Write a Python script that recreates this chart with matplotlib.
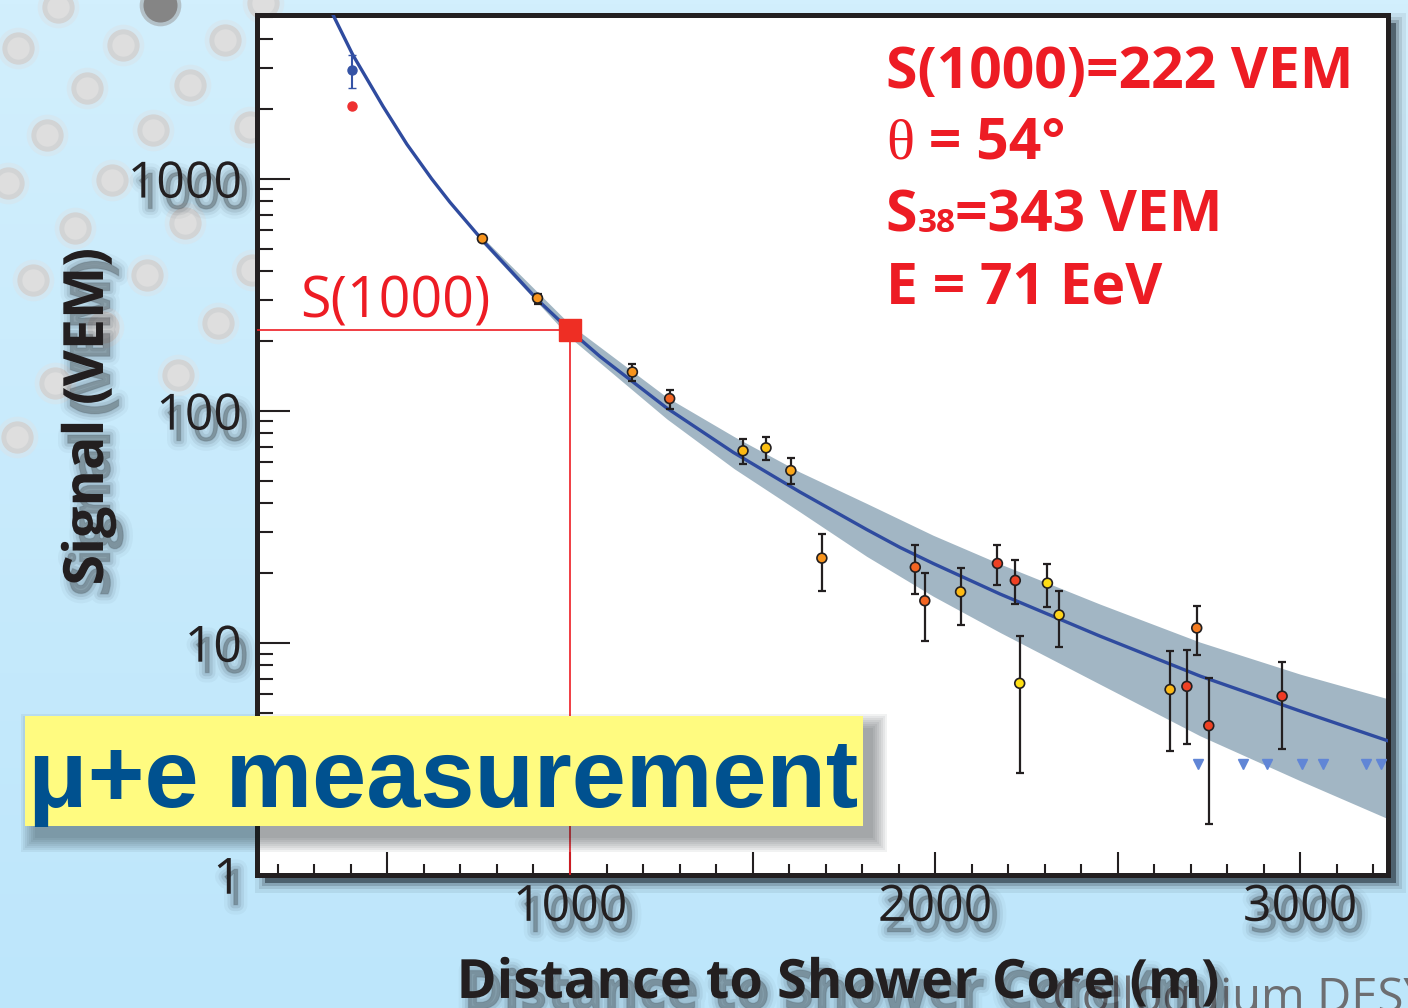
import matplotlib

matplotlib.use("Agg")
import matplotlib.pyplot as plt
import matplotlib.patheffects as pe
import numpy as np
from matplotlib.colors import LinearSegmentedColormap
from matplotlib.patches import Rectangle
from matplotlib.ticker import FuncFormatter, MultipleLocator, LogLocator, NullFormatter

# --- event summary ---
s1000 = 222          # VEM
theta_deg = 54
s38 = 343            # VEM
energy_eev = 71

# --- triggered stations: distance (m), signal (VEM), error band ---
station_dist = [760, 911, 1171, 1273, 1474, 1537, 1605, 1690, 1946, 1972, 2070,
                2171, 2220, 2232, 2308, 2340, 2644, 2690, 2717, 2750, 2951]
station_signal = [552, 306, 147, 113, 67.3, 69.3, 55.3, 23.2, 21.2, 15.2, 16.6,
                  22.0, 18.6, 6.7, 18.1, 13.2, 6.3, 6.5, 11.6, 4.4, 5.9]
station_hi = [562, 320, 159, 123.5, 76.0, 77.0, 62.8, 29.6, 26.3, 20.1, 21.1,
              26.3, 22.7, 10.7, 21.8, 16.8, 9.23, 9.32, 14.4, 7.09, 8.28]
station_lo = [542, 290, 134, 102.3, 59.1, 61.7, 48.2, 16.7, 16.2, 10.2, 11.9,
              17.7, 14.7, 2.76, 14.3, 9.64, 3.43, 3.66, 8.84, 1.66, 3.49]
station_colors = ["#f7941d", "#f7941d", "#f7941d", "#f26522", "#fdb913", "#fdc010",
                  "#faa61a", "#f7941d", "#f26522", "#f26522", "#fdb913",
                  "#ef4123", "#ef4123", "#ffe014", "#ffdd15", "#ffd41a", "#fdb913",
                  "#ef4123", "#f47b20", "#ef4123", "#ef3a24"]

# saturated station near the core
sat_dist = 403
sat_signal = 2944
sat_hi = 3420
sat_lo = 2466
sat_recovered = 2060

# silent stations
silent_dist = [2721, 2843, 2910, 3005, 3064, 3181, 3221]
silent_signal = [3.0, 3.0, 3.0, 3.0, 3.0, 3.0, 3.0]

# lateral distribution fit and its uncertainty band
fit_dist = [351, 405, 488, 553, 621, 671, 759, 912, 1000, 1082, 1265, 1447,
            1630, 1813, 1904, 1995, 2178, 2452, 2726, 3000, 3240]
fit_signal = [5080, 3420, 2050, 1410, 1000, 793, 546, 300, 222, 171.6, 102.9, 66.3,
              44.7, 30.8, 25.8, 22.0, 16.25, 10.7, 7.2, 5.09, 3.79]
band_dist = [740, 760, 1000, 1265, 1450, 1630, 1813, 1995, 2178, 2452, 2726, 3000, 3240]
band_lo = [588, 528, 207, 92.4, 56.3, 36.7, 23.6, 15.9, 11.1, 6.64, 3.98, 2.55, 1.75]
band_hi = [596, 560, 235.8, 114.6, 77.4, 54.5, 39.9, 29.1, 21.9, 14.7, 10.08, 7.34, 5.75]

# background decoration (pixel positions)
dot_x = [58, 263, 18, 123, 225, 87, 190, 47, 153, 250, 8, 112, 185, 75, 33, 147,
         252, 103, 218, 178, 55, 17]
dot_y = [7, 3, 48, 45, 40, 88, 85, 135, 130, 127, 183, 180, 223, 228, 280, 275,
         270, 327, 323, 375, 383, 437]

W, H = 1408, 1008
INK = "#231f20"
RED = "#ed1c24"
SANS = ["Open Sans", "DejaVu Sans"]


def soft_shadow(dx=5, dy=-8, color="#27343e"):
    return [
        pe.Stroke(offset=(dx, dy), linewidth=14, foreground=color, alpha=0.04),
        pe.Stroke(offset=(dx, dy), linewidth=9, foreground=color, alpha=0.07),
        pe.Stroke(offset=(dx, dy), linewidth=5, foreground=color, alpha=0.10),
        pe.Stroke(offset=(dx, dy), linewidth=1, foreground=color, alpha=0.12),
        pe.Normal(),
    ]


fig = plt.figure(figsize=(W / 100, H / 100), dpi=100)
fig.patch.set_facecolor("#c4e8fb")

# backdrop in pixel coordinates
bg = fig.add_axes([0, 0, 1, 1], zorder=-5)
bg.imshow(np.linspace(0, 1, 256)[:, None],
          cmap=LinearSegmentedColormap.from_list("slide", ["#d2effd", "#bde6fb"]),
          extent=(0, W, H, 0), aspect="auto")
bg.scatter(dot_x, dot_y, s=900, color="#d9e4ea", alpha=0.55, lw=0)
bg.scatter(dot_x, dot_y, s=540, color="#d2d4d5", lw=0)
bg.scatter(dot_x, dot_y, s=260, color="#dedede", lw=0)
bg.scatter([160], [5], s=900, color="#a0a4a6", alpha=0.6, lw=0)
bg.scatter([160], [5], s=600, color="#858585", lw=0)
bg.text(1052, 1012, "Colloquium DESY", fontsize=34, color="#6d6e71",
        family=SANS, va="baseline")
# drop shadow of the plot frame
for grow, a in [(10, 0.08), (6, 0.12), (3, 0.2), (0, 0.55)]:
    bg.add_patch(Rectangle((265 - grow, 23 - grow), 1131 + 2 * grow, 860 + 2 * grow,
                           color="#1f2b35", alpha=a, lw=0))
bg.set_xlim(0, W)
bg.set_ylim(H, 0)
bg.axis("off")

ax = fig.add_axes([257 / W, 133 / H, 1131 / W, 860 / H], zorder=1)
ax.set_facecolor("white")

ax.fill_between(band_dist, band_lo, band_hi, color="#a2b6c4", lw=0, zorder=2)
ax.plot(fit_dist, fit_signal, color="#2f4b9f", lw=2.4, zorder=3)

x_left, x_right = 142.5, 3241
ax.hlines(s1000, x_left, 1000, color=RED, lw=1.2, zorder=4)
ax.vlines(1000, 1, s1000, color=RED, lw=1.2, zorder=4)
ax.plot([1000], [s1000], "s", color="#ee2e24", ms=16, zorder=5)
ax.text(262, 252, "S(1000)", fontsize=40, color=RED, family=SANS, va="baseline")

yerr = [np.subtract(station_signal, station_lo), np.subtract(station_hi, station_signal)]
ax.errorbar(station_dist, station_signal, yerr=yerr, fmt="none", ecolor=INK,
            elinewidth=1.6, capsize=3, capthick=1.6, zorder=6)
ax.scatter(station_dist, station_signal, c=station_colors, s=50, edgecolors=INK,
           linewidths=1.2, zorder=7)

ax.errorbar([sat_dist], [sat_signal], yerr=[[sat_signal - sat_lo], [sat_hi - sat_signal]],
            fmt="o", color="#3553a5", ms=6.5, capsize=3, elinewidth=1.5, zorder=6)
ax.plot([sat_dist], [sat_recovered], "o", color="#ee3030", ms=6.5, zorder=6)
ax.plot(silent_dist, silent_signal, "v", color="#6186d6", ms=7, ls="none", zorder=6)

ax.set_yscale("log")
ax.set_xlim(x_left, x_right)
ax.set_ylim(1, 5080)

ax.xaxis.set_major_locator(MultipleLocator(500))
ax.xaxis.set_minor_locator(MultipleLocator(100))
ax.xaxis.set_major_formatter(FuncFormatter(lambda v, p: f"{v:.0f}" if v % 1000 == 0 else ""))
ax.yaxis.set_major_locator(LogLocator(base=10))
ax.yaxis.set_minor_locator(LogLocator(base=10, subs=np.arange(2, 10)))
ax.yaxis.set_major_formatter(FuncFormatter(lambda v, p: f"{v:g}"))
ax.yaxis.set_minor_formatter(NullFormatter())

ax.tick_params(which="both", direction="in", top=False, right=False, color=INK,
               width=1.5, labelsize=36, labelcolor=INK)
ax.tick_params(axis="y", which="major", length=24, pad=11)
ax.tick_params(axis="y", which="minor", length=11.5)
ax.tick_params(axis="x", which="major", length=16.5, pad=6)
ax.tick_params(axis="x", which="minor", length=8)
for lbl in ax.get_xticklabels() + ax.get_yticklabels():
    lbl.set_family(SANS)
    lbl.set_path_effects(soft_shadow())
for sp in ax.spines.values():
    sp.set_linewidth(3.6)
    sp.set_color(INK)

ax.set_xlabel("Distance to Shower Core (m)", fontsize=39, fontweight="bold",
              family=SANS, color=INK, va="baseline", path_effects=soft_shadow())
ax.xaxis.set_label_coords(0.513, -0.143)
ax.set_ylabel("Signal (VEM)", fontsize=40, fontweight="bold", family=SANS,
              color=INK, va="center", path_effects=soft_shadow())
ax.yaxis.set_label_coords(-0.149, 0.533)

# event summary, written piece by piece so sub-scripts and glyphs can mix fonts
renderer = fig.canvas.get_renderer()
to_axes = ax.transAxes.inverted()


def text_run(x, y, pieces):
    for s, kw in pieces:
        t = ax.text(x, y, s, transform=ax.transAxes, va="baseline", ha="left",
                    color=RED, zorder=8, **kw)
        x1 = t.get_window_extent(renderer).x1
        x = to_axes.transform((x1, 0))[0]


bold = dict(fontsize=41, fontweight="bold", family=SANS)
text_run(0.556, 0.915, [(f"S(1000)={s1000} VEM", bold)])
text_run(0.556, 0.8326, [("\u03b8", dict(fontsize=42, family=["Liberation Serif", "DejaVu Serif"])),
                         (f" = {theta_deg}\u00b0", bold)])
text_run(0.556, 0.7477, [("S", bold),
                         ("38", dict(fontsize=24, fontweight="bold", family=SANS)),
                         (f"={s38} VEM", bold)])
text_run(0.556, 0.6651, [(f"E = {energy_eev} EeV", bold)])

# highlighted caption on top of everything
top = fig.add_axes([0, 0, 1, 1], zorder=5)
top.set_xlim(0, W)
top.set_ylim(H, 0)
top.axis("off")
for grow in range(0, 15, 2):
    top.add_patch(Rectangle((35 - grow, 728 - grow), 838 + 2 * grow, 110 + 2 * grow,
                            color="#1a2228", alpha=0.06, lw=0))
top.add_patch(Rectangle((25, 716), 838, 110, color="#fffb80", lw=0))
top.text(28, 807, "\u03bc+e measurement", fontsize=70, fontweight="bold",
         family=["Liberation Sans", "DejaVu Sans"], color="#00518f", va="baseline")

fig.savefig("out.png", dpi=100, facecolor=fig.get_facecolor())
